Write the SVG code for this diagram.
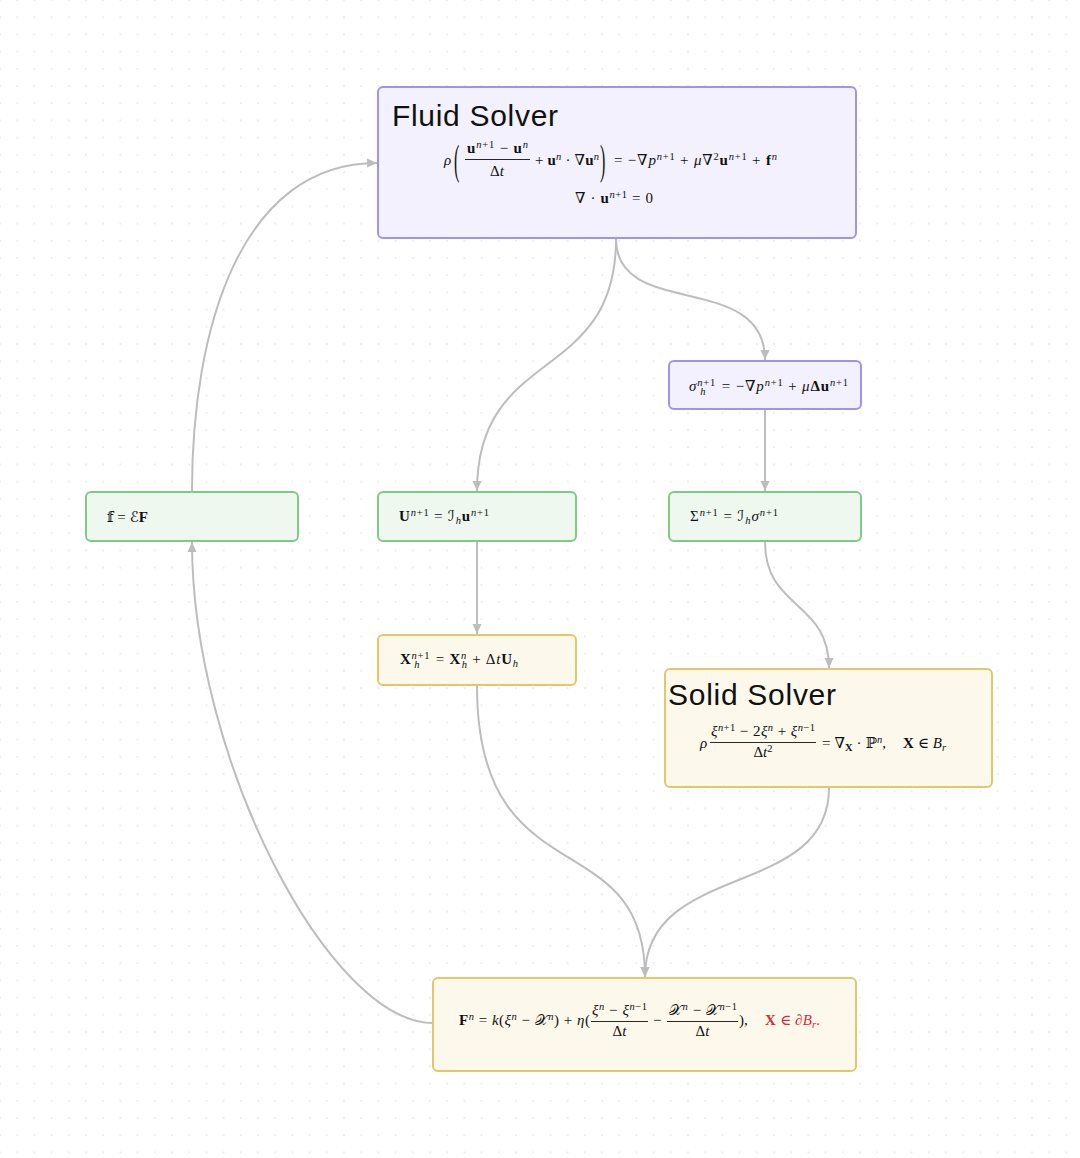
<svg xmlns="http://www.w3.org/2000/svg" width="1080" height="1158" viewBox="0 0 1080 1158">
<defs>
<pattern id="dots" x="8.6" y="8.6" width="17.2" height="17.2" patternUnits="userSpaceOnUse">
<circle cx="8.6" cy="8.6" r="0.9" fill="#e6e6e6"/>
</pattern>
<marker id="arr" markerUnits="userSpaceOnUse" markerWidth="11" markerHeight="11" viewBox="0 0 11 11" refX="10" refY="5.5" orient="auto">
<path d="M0,1 L10,5.5 L0,10 z" fill="#bdbdbd"/>
</marker>
<style>
.purple{fill:#f3f1fe;stroke:#a193ea;stroke-width:2}
.green{fill:#eef8ef;stroke:#7fcb86;stroke-width:2}
.yellow{fill:#fcf9ec;stroke:#e4c76a;stroke-width:2}
.title{font-family:"Liberation Sans",Arial,sans-serif;font-size:30px;fill:#111}
.m{font-family:"Liberation Serif","DejaVu Serif","DejaVu Sans",serif;font-size:15px;fill:#111}
.it{font-style:italic}
.bf{font-weight:bold}
.sc{font-size:10.5px}
.bar{stroke:#111;stroke-width:0.9}
.red{fill:#d92b2b}
.conn path{fill:none;stroke:#bdbdbd;stroke-width:2;marker-end:url(#arr)}
</style>
</defs>
<rect width="1080" height="1158" fill="#ffffff"/>
<rect width="1080" height="1158" fill="url(#dots)"/>

<g id="connectors" class="conn">
<path d="M616,239 C616,385 477,345 477,491"/>
<path d="M616,239 C616,320 765,270 765,360"/>
<path d="M765,410 L765,491"/>
<path d="M477,542 L477,634"/>
<path d="M765,542 C765,610 829,600 829,668"/>
<path d="M477,686 C477,900 645,820 645,977"/>
<path d="M829,788 C829,900 645,860 645,977"/>
<path d="M433,1023 C330,1023 192,760 192,542"/>
<path d="M192,491 C192,330 240,163 377,163"/>
</g>

<g id="fluid">
<rect class="purple" x="378" y="87" width="478" height="151" rx="5"/>
<text class="title" x="392" y="126" textLength="166">Fluid Solver</text>
<text class="m it" x="444" y="165">ρ</text>
<text class="m" transform="translate(454,173.5) scale(1,2.6)" style="font-size:16px">(</text>
<text class="m" x="467" y="153" textLength="61"><tspan class="bf">u</tspan><tspan class="sc it" dy="-5.5">n</tspan><tspan class="sc">+1</tspan><tspan dy="5.5"> − </tspan><tspan class="bf">u</tspan><tspan class="sc it" dy="-5.5">n</tspan></text>
<line class="bar" x1="465" y1="159.5" x2="530" y2="159.5"/>
<text class="m" x="497" y="176" text-anchor="middle">Δ<tspan class="it">t</tspan></text>
<text class="m" x="535" y="165" textLength="64">+ <tspan class="bf">u</tspan><tspan class="sc it" dy="-5.5">n</tspan><tspan dy="5.5"> · ∇</tspan><tspan class="bf">u</tspan><tspan class="sc it" dy="-5.5">n</tspan></text>
<text class="m" transform="translate(600,173.5) scale(1,2.6)" style="font-size:16px">)</text>
<text class="m" x="614" y="165" textLength="163">= −∇<tspan class="it">p</tspan><tspan class="sc it" dy="-5.5">n</tspan><tspan class="sc">+1</tspan><tspan dy="5.5"> + </tspan><tspan class="it">μ</tspan>∇<tspan class="sc" dy="-5.5">2</tspan><tspan class="bf" dy="5.5">u</tspan><tspan class="sc it" dy="-5.5">n</tspan><tspan class="sc">+1</tspan><tspan dy="5.5"> + </tspan><tspan class="bf">f</tspan><tspan class="sc it" dy="-5.5">n</tspan></text>
<text class="m" x="575" y="203" textLength="78">∇ · <tspan class="bf">u</tspan><tspan class="sc it" dy="-5.5">n</tspan><tspan class="sc">+1</tspan><tspan dy="5.5"> = 0</tspan></text>
</g>

<g id="sigma_h">
<rect class="purple" x="669" y="361" width="192" height="48" rx="5"/>
<text class="m" x="689" y="391" textLength="159"><tspan class="it">σ</tspan><tspan class="sc it" dy="-5.5">n</tspan><tspan class="sc">+1</tspan><tspan class="sc it" dx="-16" dy="9.5">h</tspan><tspan dx="11" dy="-4"> = −∇</tspan><tspan class="it">p</tspan><tspan class="sc it" dy="-5.5">n</tspan><tspan class="sc">+1</tspan><tspan dy="5.5"> + </tspan><tspan class="it">μ</tspan><tspan class="bf">Δu</tspan><tspan class="sc it" dy="-5.5">n</tspan><tspan class="sc">+1</tspan></text>
</g>

<g id="f">
<rect class="green" x="86" y="492" width="212" height="49" rx="5"/>
<text class="m" x="107" y="522" textLength="41">𝕗 = ℰ<tspan class="bf">F</tspan></text>
</g>

<g id="U">
<rect class="green" x="378" y="492" width="198" height="49" rx="5"/>
<text class="m" x="399" y="521" textLength="90"><tspan class="bf">U</tspan><tspan class="sc it" dy="-5.5">n</tspan><tspan class="sc">+1</tspan><tspan dy="5.5"> = ℐ</tspan><tspan class="sc it" dy="3">h</tspan><tspan class="bf" dy="-3">u</tspan><tspan class="sc it" dy="-5.5">n</tspan><tspan class="sc">+1</tspan></text>
</g>

<g id="Sigma">
<rect class="green" x="669" y="492" width="192" height="49" rx="5"/>
<text class="m" x="690" y="521" textLength="88">Σ<tspan class="sc it" dy="-5.5">n</tspan><tspan class="sc">+1</tspan><tspan dy="5.5"> = ℐ</tspan><tspan class="sc it" dy="3">h</tspan><tspan class="it" dy="-3">σ</tspan><tspan class="sc it" dy="-5.5">n</tspan><tspan class="sc">+1</tspan></text>
</g>

<g id="X">
<rect class="yellow" x="378" y="635" width="198" height="50" rx="5"/>
<text class="m" x="400" y="664" textLength="118"><tspan class="bf">X</tspan><tspan class="sc it" dy="-5.5">n</tspan><tspan class="sc">+1</tspan><tspan class="sc it" dx="-16" dy="9.5">h</tspan><tspan dx="11" dy="-4"> = </tspan><tspan class="bf">X</tspan><tspan class="sc it" dy="-5.5">n</tspan><tspan class="sc it" dx="-5.3" dy="9.5">h</tspan><tspan dy="-4"> + Δ</tspan><tspan class="it">t</tspan><tspan class="bf">U</tspan><tspan class="sc it" dy="3">h</tspan></text>
</g>

<g id="solid">
<rect class="yellow" x="665" y="669" width="327" height="118" rx="5"/>
<text class="title" x="668" y="705" textLength="168">Solid Solver</text>
<text class="m it" x="700" y="748">ρ</text>
<text class="m" x="711" y="736" textLength="104"><tspan class="it">ξ</tspan><tspan class="sc it" dy="-5.5">n</tspan><tspan class="sc">+1</tspan><tspan dy="5.5"> − 2</tspan><tspan class="it">ξ</tspan><tspan class="sc it" dy="-5.5">n</tspan><tspan dy="5.5"> + </tspan><tspan class="it">ξ</tspan><tspan class="sc it" dy="-5.5">n</tspan><tspan class="sc">−1</tspan></text>
<line class="bar" x1="710" y1="742.5" x2="816" y2="742.5"/>
<text class="m" x="763" y="757" text-anchor="middle">Δ<tspan class="it">t</tspan><tspan class="sc" dy="-5.5">2</tspan></text>
<text class="m" x="822" y="748" textLength="64">= ∇<tspan class="sc bf" dy="3">X</tspan><tspan dy="-3"> · ℙ</tspan><tspan class="sc it" dy="-5.5">n</tspan><tspan dy="5.5">,</tspan></text>
<text class="m" x="903" y="748" textLength="43"><tspan class="bf">X</tspan> ∈ <tspan class="it">B</tspan><tspan class="sc it" dy="3">r</tspan></text>
</g>

<g id="F">
<rect class="yellow" x="433" y="978" width="423" height="93" rx="5"/>
<text class="m" x="459" y="1025" textLength="131"><tspan class="bf">F</tspan><tspan class="sc it" dy="-5.5">n</tspan><tspan dy="5.5"> = </tspan><tspan class="it">k</tspan>(<tspan class="it">ξ</tspan><tspan class="sc it" dy="-5.5">n</tspan><tspan dy="5.5"> − 𝒳</tspan><tspan class="sc it" dy="-5.5">n</tspan><tspan dy="5.5">) + </tspan><tspan class="it">η</tspan>(</text>
<text class="m" x="592" y="1015" textLength="55"><tspan class="it">ξ</tspan><tspan class="sc it" dy="-5.5">n</tspan><tspan dy="5.5"> − </tspan><tspan class="it">ξ</tspan><tspan class="sc it" dy="-5.5">n</tspan><tspan class="sc">−1</tspan></text>
<line class="bar" x1="591" y1="1021.5" x2="648" y2="1021.5"/>
<text class="m" x="619.5" y="1036" text-anchor="middle">Δ<tspan class="it">t</tspan></text>
<text class="m" x="653" y="1025">−</text>
<text class="m" x="669" y="1015" textLength="68">𝒳<tspan class="sc it" dy="-5.5">n</tspan><tspan dy="5.5"> − 𝒳</tspan><tspan class="sc it" dy="-5.5">n</tspan><tspan class="sc">−1</tspan></text>
<line class="bar" x1="667" y1="1021.5" x2="738" y2="1021.5"/>
<text class="m" x="702.5" y="1036" text-anchor="middle">Δ<tspan class="it">t</tspan></text>
<text class="m" x="739" y="1025">),</text>
<text class="m red" x="765" y="1025" textLength="55"><tspan class="bf">X</tspan> ∈ ∂<tspan class="it">B</tspan><tspan class="sc it" dy="3">r</tspan><tspan dy="-3">.</tspan></text>
</g>
</svg>
